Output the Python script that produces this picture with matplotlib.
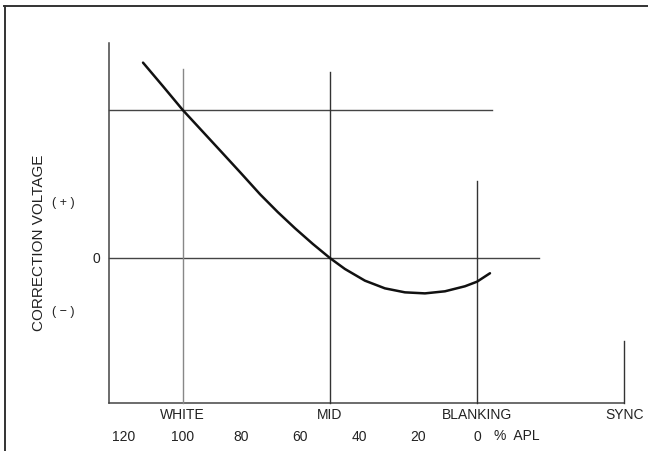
import matplotlib.pyplot as plt

plt.rcParams.update({
    'font.family': 'sans-serif',
    'font.sans-serif': ['Liberation Sans', 'DejaVu Sans'],
    'font.size': 10
})

# correction curve (x = % APL, y = relative correction voltage)
apl = [113.5, 106.7, 100, 93.5, 87, 80.3, 73.7, 67.7, 61.8, 55.8, 50,
       44.9, 38.1, 31.3, 24.5, 17.7, 10.9, 4.1, 0, -4.4]
volts = [1.32, 1.16, 1.0, 0.86, 0.72, 0.575, 0.43, 0.31, 0.2, 0.095, 0.0,
         -0.074, -0.153, -0.205, -0.232, -0.239, -0.225, -0.191, -0.16, -0.103]

# reference levels
levels = ['WHITE', 'MID', 'BLANKING', 'SYNC']
level_apl = [100, 50, 0, -50]
level_top = [1.28, 1.26, 0.52, -0.56]

apl_ticks = [120, 100, 80, 60, 40, 20, 0]

fig = plt.figure(figsize=(6.48, 4.52), dpi=100)
ax = fig.add_axes([0, 0, 1, 1])
ax.set_xlim(162.1, -58.1)
ax.set_ylim(-1.304, 1.75)
ax.axis('off')

# page border (top and left edges of the scanned frame)
ax.plot([0.006, 1.0], [0.985, 0.985], transform=ax.transAxes, color='#333333', lw=1.4)
ax.plot([0.008, 0.008], [0.0, 0.985], transform=ax.transAxes, color='#333333', lw=1.4)

# axes frame
ax.plot([125, 125], [-0.98, 1.45], color='#444444', lw=1.1)
ax.plot([125, -50], [-0.98, -0.98], color='#444444', lw=1.1)

# horizontal reference lines
ax.plot([125, -5], [1.0, 1.0], color='#444444', lw=1.0)
ax.plot([125, -21], [0.0, 0.0], color='#444444', lw=1.0)

# vertical level markers
for a, top, name in zip(level_apl, level_top, levels):
    col = '#888888' if name == 'WHITE' else '#333333'
    ax.plot([a, a], [-0.98, top], color=col, lw=1.0)
    ax.text(a, -1.055, name, ha='center', va='center', fontsize=10, color='#222222')

for t in apl_ticks:
    ax.text(t, -1.205, str(t), ha='center', va='center', fontsize=10, color='#222222')
ax.text(-13.5, -1.195, '%  APL', ha='center', va='center', fontsize=10, color='#222222')

# correction curve
ax.plot(apl, volts, color='#111111', lw=1.8, solid_capstyle='round',
        solid_joinstyle='round')

# y-axis annotations
ax.text(149, 0.11, 'CORRECTION VOLTAGE', rotation=90, ha='center', va='center',
        fontsize=11, color='#222222')
ax.text(140.5, 0.38, '( + )', ha='center', va='center', fontsize=9, color='#222222')
ax.text(140.5, -0.36, '( − )', ha='center', va='center', fontsize=9, color='#222222')
ax.text(129.5, 0.0, '0', ha='center', va='center', fontsize=10, color='#222222')

fig.savefig('out.png', dpi=100)
plt.close(fig)
